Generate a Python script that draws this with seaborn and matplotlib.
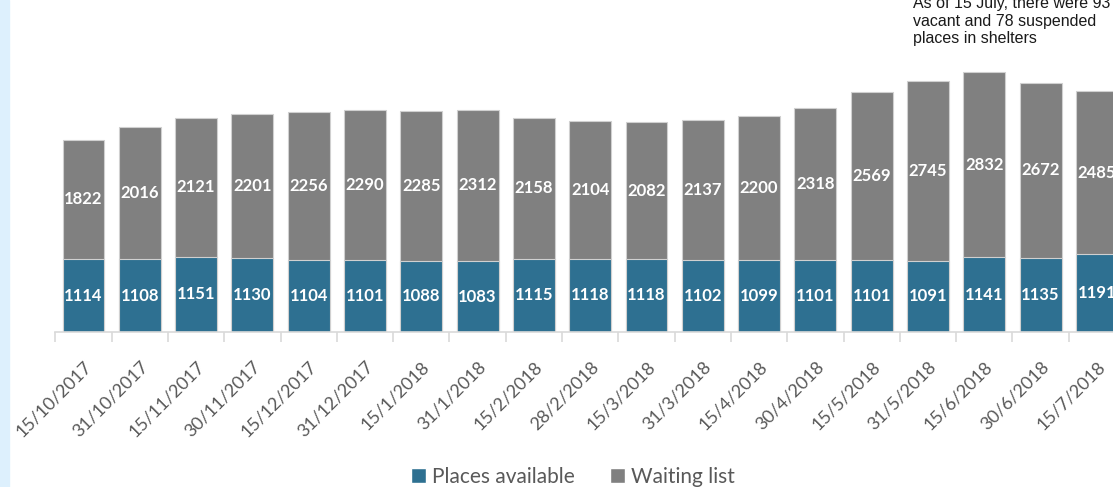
import numpy as np
import pandas as pd
import seaborn as sns
import matplotlib.pyplot as plt
from matplotlib.patches import Patch, Rectangle

# values
dates = ["15/10/2017", "31/10/2017", "15/11/2017", "30/11/2017", "15/12/2017",
         "31/12/2017", "15/1/2018", "31/1/2018", "15/2/2018", "28/2/2018",
         "15/3/2018", "31/3/2018", "15/4/2018", "30/4/2018", "15/5/2018",
         "31/5/2018", "15/6/2018", "30/6/2018", "15/7/2018"]
places_available = [1114, 1108, 1151, 1130, 1104, 1101, 1088, 1083, 1115, 1118,
                    1118, 1102, 1099, 1101, 1101, 1091, 1141, 1135, 1191]
waiting_list = [1822, 2016, 2121, 2201, 2256, 2290, 2285, 2312, 2158, 2104,
                2082, 2137, 2200, 2318, 2569, 2745, 2832, 2672, 2485]

df = pd.DataFrame({"date": dates, "available": places_available, "waiting": waiting_list})
df["total"] = df["available"] + df["waiting"]

blue = "#2e7091"
grey = "#808080"
edge = "#d0d0d0"
text_grey = "#595959"

sns.set_style("white")
plt.rcParams["font.family"] = ["Lato", "DejaVu Sans"]

fig = plt.figure(figsize=(11.13, 4.87), dpi=100)
# light blue strip on the left edge
fig.patches.append(Rectangle((0, 0), 8.5 / 1113, 1, transform=fig.transFigure,
                             color="#ddf0fd", zorder=0))

ax = fig.add_axes([55.35 / 1113, 155 / 487, 1069.7 / 1113, 294.75 / 487])

sns.barplot(data=df, x="date", y="total", color=grey, width=0.746,
            edgecolor=edge, linewidth=0.8, saturation=1, ax=ax)
sns.barplot(data=df, x="date", y="available", color=blue, width=0.746,
            edgecolor=edge, linewidth=0.8, saturation=1, ax=ax)

for i, row in df.iterrows():
    ax.text(i, row["available"] / 2, str(row["available"]), ha="center", va="center",
            color="white", fontsize=12, fontweight="bold")
    ax.text(i, row["available"] + row["waiting"] / 2, str(row["waiting"]), ha="center",
            va="center", color="white", fontsize=12, fontweight="bold")

ax.set_xlim(-0.5, len(dates) - 0.5)
ax.set_ylim(0, 4500)
ax.set_xlabel("")
ax.set_ylabel("")
ax.set_yticks([])
for s in ["top", "right", "left"]:
    ax.spines[s].set_visible(False)
ax.spines["bottom"].set_color("#d9d9d9")
ax.spines["bottom"].set_linewidth(1.2)

ax.set_xticks(range(len(dates)))
ax.set_xticklabels(dates, rotation=45, ha="right", rotation_mode="anchor",
                   fontsize=13, color=text_grey)
ax.tick_params(axis="x", which="major", length=0, pad=19)
ax.set_xticks(np.arange(len(dates) + 1) - 0.5, minor=True)
ax.tick_params(axis="x", which="minor", bottom=True, direction="out", length=7,
               color="#d9d9d9", width=1.2)

handles = [Patch(facecolor=blue, label="Places available"),
           Patch(facecolor=grey, label="Waiting list")]
fig.legend(handles=handles, loc="center", bbox_to_anchor=(573 / 1113, 1 - 477 / 487),
           ncol=2, frameon=False, fontsize=15, labelcolor=text_grey,
           handlelength=0.7, handleheight=0.7, handletextpad=0.3,
           columnspacing=1.7, borderaxespad=0)

fig.text(913 / 1113, 1 - 43 / 487,
         "As of 15 July, there were 93\nvacant and 78 suspended\nplaces in shelters",
         family=["Liberation Sans", "DejaVu Sans"], fontsize=11.5, linespacing=1.2,
         ha="left", va="baseline", color="#1a1a1a")

fig.savefig("out.png", dpi=100)
